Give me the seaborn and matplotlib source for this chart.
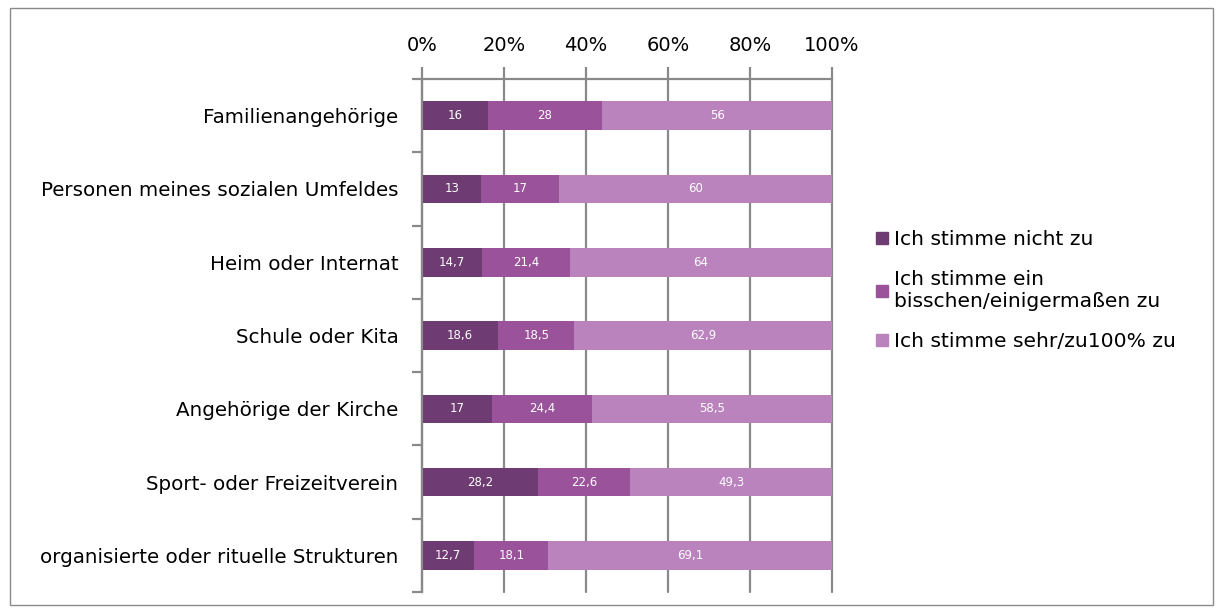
import numpy as np
import pandas as pd
import matplotlib
matplotlib.use("Agg")
import matplotlib.pyplot as plt
import seaborn as sns
from matplotlib.lines import Line2D
from matplotlib.patches import Rectangle

categories = ["Familienangehörige", "Personen meines sozialen Umfeldes", "Heim oder Internat",
              "Schule oder Kita", "Angehörige der Kirche", "Sport- oder Freizeitverein",
              "organisierte oder rituelle Strukturen"]
nicht = [16, 13, 14.7, 18.6, 17, 28.2, 12.7]
bisschen = [28, 17, 21.4, 18.5, 24.4, 22.6, 18.1]
sehr = [56, 60, 64, 62.9, 58.5, 49.3, 69.1]
series_names = ["Ich stimme nicht zu", "Ich stimme ein\nbisschen/einigermaßen zu", "Ich stimme sehr/zu100% zu"]
colors = ["#6E3B72", "#9A529B", "#BA83BD"]
xticks = [0, 20, 40, 60, 80, 100]

sns.set_style("white")
plt.rcParams["font.family"] = ["DejaVu Sans"]

df = pd.DataFrame({"category": categories, "s0": nicht, "s1": bisschen, "s2": sehr})
vals = df[["s0", "s1", "s2"]].to_numpy(dtype=float)
shares = vals / vals.sum(axis=1, keepdims=True) * 100
cum = np.cumsum(shares, axis=1)
for i in range(3):
    df[f"cum{i}"] = cum[:, i]

fig = plt.figure(figsize=(12.24, 6.14), dpi=100)
ax = fig.add_axes([0.3448, 0.0358, 0.3349, 0.8355])

for i in reversed(range(3)):
    sns.barplot(data=df, x=f"cum{i}", y="category", order=categories, color=colors[i],
                width=0.39, saturation=1, errorbar=None, orient="h", ax=ax,
                edgecolor="none", linewidth=0)

grid_c = "#898989"
ax.set_xlim(0, 100)
ax.set_ylim(6.5, -0.5)
ax.set_xlabel("")
ax.set_ylabel("")
ax.xaxis.tick_top()
ax.set_xticks(xticks)
ax.set_xticklabels([f"{t}%" for t in xticks])
ax.tick_params(axis="x", top=True, bottom=False, length=9, width=1.6, color=grid_c,
               labelsize=14, pad=8, labelcolor="#000000")
ax.set_axisbelow(True)
ax.grid(axis="x", color=grid_c, linewidth=1.6)
for gl in ax.get_xgridlines():
    gl.set_clip_on(False)
ax.grid(axis="y", visible=False)
ax.tick_params(axis="y", which="major", length=0, labelsize=14.3, pad=17, labelcolor="#000000")
ax.set_yticks(np.arange(-0.5, len(categories), 1), minor=True)
ax.tick_params(axis="y", which="minor", length=7, width=1.6, color=grid_c, left=True)
for s in ["right", "bottom"]:
    ax.spines[s].set_visible(False)
for s in ["top", "left"]:
    ax.spines[s].set_color(grid_c)
    ax.spines[s].set_linewidth(1.6)

series_raw = [nicht, bisschen, sehr]
for i in range(3):
    for j in range(len(categories)):
        left = cum[j, i] - shares[j, i]
        center = left + shares[j, i] / 2
        label = f"{series_raw[i][j]:g}".replace(".", ",")
        ax.text(center, j, label, ha="center", va="center", color="white", fontsize=8.5)

handles = [Line2D([], [], marker="s", linestyle="none", markersize=9,
                  markerfacecolor=c, markeredgecolor=c) for c in colors]
fig.legend(handles, series_names, loc="center left", bbox_to_anchor=(0.708, 0.527),
           frameon=False, fontsize=14.6, handlelength=0.7, handletextpad=0.25,
           labelspacing=1.05, borderaxespad=0, labelcolor="#000000")

fig.patches.append(Rectangle((10 / 1224, 1 - 605 / 614), (1213 - 10) / 1224, (605 - 8) / 614,
                             transform=fig.transFigure, fill=False, edgecolor="#8a8a8a",
                             linewidth=1))

fig.savefig("out.png", dpi=100)
